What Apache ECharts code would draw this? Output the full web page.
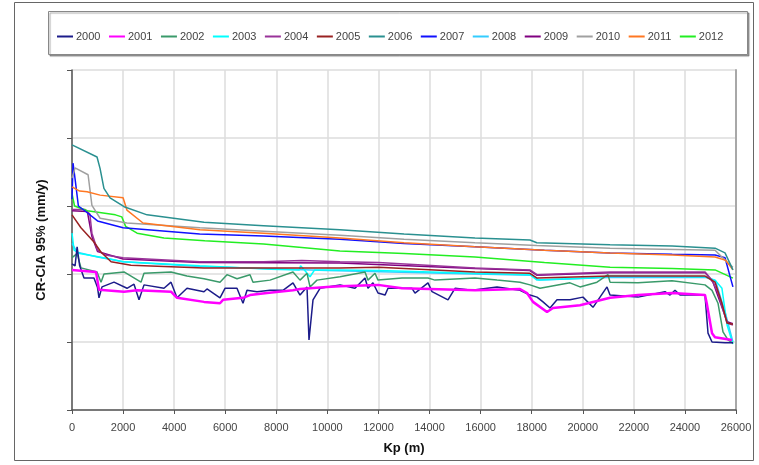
<!DOCTYPE html>
<html><head><meta charset="utf-8">
<script src="https://cdn.jsdelivr.net/npm/echarts@6/dist/echarts.min.js"></script>
<style>html,body{margin:0;padding:0;background:#fff}#c{width:759px;height:465px}</style>
</head><body><div id="c"></div>
<script>
var years = ['2000','2001','2002','2003','2004','2005','2006','2007','2008','2009','2010','2011','2012'];
var colors = ['#1c1c8a','#ff00ff','#3a9a6a','#00ffff','#993399','#992222','#2a9090','#1010ff','#33ccff','#800080','#a0a0a0','#ff7722','#22ee22'];
var xTicks = [0,2000,4000,6000,8000,10000,12000,14000,16000,18000,20000,22000,24000,26000];

var s2000 = [[0,2.15],[120,2.12],[200,2.40],[300,2.12],[470,1.94],[860,1.94],[1000,1.80],[1057,1.65],[1175,1.81],[1645,1.88],[2154,1.79],[2428,1.85],[2624,1.62],[2819,1.84],[3602,1.79],[3877,1.88],[4112,1.65],[4503,1.79],[5169,1.74],[5286,1.78],[5795,1.65],[5991,1.79],[6461,1.79],[6696,1.57],[6852,1.76],[7244,1.74],[7753,1.76],[8262,1.76],[8654,1.87],[8928,1.69],[9202,1.81],[9280,1.03],[9437,1.62],[9711,1.79],[10494,1.84],[11081,1.79],[11473,1.94],[11590,1.79],[11786,1.87],[11982,1.72],[12256,1.69],[12374,1.79],[13313,1.79],[13431,1.72],[13940,1.87],[14097,1.74],[14723,1.62],[14997,1.79],[15663,1.76],[16642,1.81],[17542,1.76],[17934,1.69],[18208,1.66],[18443,1.59],[18717,1.50],[18991,1.62],[19500,1.62],[20009,1.66],[20401,1.51],[20675,1.66],[20949,1.81],[21067,1.69],[22163,1.66],[23220,1.74],[23416,1.69],[23612,1.76],[23808,1.69],[24786,1.69],[24904,1.13],[25061,1.00],[25570,0.99],[25883,0.99]];
var s2001 = [[0,2.06],[940,2.03],[1057,1.77],[2036,1.74],[2545,1.76],[3877,1.74],[4112,1.65],[5169,1.59],[5795,1.57],[5913,1.62],[6696,1.65],[6970,1.69],[7636,1.72],[8654,1.76],[8928,1.78],[9985,1.81],[10494,1.82],[11982,1.84],[12922,1.79],[15780,1.76],[17542,1.78],[17816,1.72],[18051,1.59],[18600,1.44],[18835,1.50],[19892,1.54],[21067,1.65],[22163,1.69],[23494,1.72],[24786,1.69],[24865,1.55],[25061,1.13],[25178,1.07],[25844,1.03]];
var s2002 = [[0,2.24],[200,2.30],[352,2.09],[979,2.03],[1136,1.88],[1253,2.00],[2036,2.03],[2702,1.88],[2819,2.01],[3877,2.03],[4500,1.97],[5169,1.93],[5795,1.88],[6069,1.99],[6461,1.93],[6970,1.99],[7087,1.88],[7753,1.91],[8654,2.03],[8928,1.91],[9202,2.01],[9320,1.81],[9593,1.91],[10494,1.96],[11473,2.03],[11590,1.91],[11865,2.01],[11982,1.91],[12922,1.94],[13940,1.94],[14214,1.91],[15780,1.94],[16642,1.91],[17542,1.88],[17934,1.84],[18326,1.79],[19500,1.87],[19892,1.81],[20557,1.88],[20988,1.99],[21067,1.88],[22163,1.87],[23494,1.90],[24786,1.84],[25061,1.76],[25295,1.57],[25491,1.15],[25687,1.03],[25883,0.98]];
var s2003 = [[0,2.60],[80,2.35],[300,2.30],[800,2.27],[1500,2.22],[2000,2.18],[5000,2.12],[7800,2.07],[8900,2.06],[8950,2.12],[9100,2.06],[9320,1.96],[9500,2.06],[10490,2.06],[12000,2.05],[15780,2.01],[17930,1.99],[18210,1.91],[20300,1.94],[21070,1.97],[24790,1.96],[25180,1.91],[25450,1.79],[25650,1.25],[25880,0.97]];
var s2004 = [[0,2.95],[500,2.95],[700,2.88],[780,2.60],[1000,2.35],[1300,2.28],[2000,2.24],[5000,2.18],[7500,2.18],[9000,2.20],[10490,2.18],[12000,2.17],[15780,2.09],[17930,2.06],[18210,1.99],[21070,2.03],[24790,2.03],[25060,1.91],[25300,1.72],[25650,1.28],[25880,1.25]];
var s2005 = [[0,2.87],[350,2.68],[860,2.47],[1140,2.32],[1530,2.18],[2310,2.13],[5170,2.09],[7500,2.09],[10490,2.09],[12000,2.10],[15780,2.03],[17930,2.01],[18210,1.94],[21070,1.97],[24790,1.97],[25180,1.88],[25450,1.57],[25650,1.28],[25880,1.26]];
var s2006 = [[0,3.90],[980,3.72],[1100,3.55],[1250,3.26],[1490,3.12],[2040,2.99],[2940,2.87],[5170,2.76],[7500,2.71],[10490,2.65],[13000,2.59],[15780,2.53],[17930,2.50],[18200,2.46],[21070,2.43],[23500,2.41],[25180,2.38],[25570,2.31],[25880,2.06]];
var s2007 = [[0,3.10],[40,3.63],[120,3.40],[250,3.00],[500,2.93],[1000,2.78],[2000,2.68],[5000,2.59],[7500,2.56],[10490,2.51],[13000,2.45],[15780,2.40],[18500,2.35],[21070,2.31],[23500,2.29],[25180,2.28],[25570,2.24],[25880,1.81]];
var s2008 = [[0,2.45],[200,2.32],[1000,2.25],[2000,2.18],[5000,2.11],[10000,2.05],[15780,2.00],[18000,1.98],[18300,1.91],[21000,1.95],[24800,1.95],[25200,1.90],[25600,1.40],[25880,1.00]];
var s2009 = [[0,2.93],[600,2.92],[780,2.55],[1000,2.33],[2000,2.22],[5000,2.17],[10490,2.16],[15780,2.08],[17930,2.05],[18210,1.98],[21070,2.02],[24790,2.02],[25100,1.88],[25650,1.30],[25880,1.27]];
var s2010 = [[0,3.41],[120,3.56],[630,3.46],[780,3.01],[1100,2.82],[2150,2.75],[5010,2.68],[7500,2.63],[10490,2.57],[13000,2.51],[15780,2.46],[18200,2.42],[21070,2.38],[25180,2.35],[25690,2.16],[25880,2.10]];
var s2011 = [[0,3.28],[300,3.22],[590,3.21],[1100,3.16],[2000,3.12],[2150,2.94],[2780,2.75],[5010,2.65],[7500,2.60],[10490,2.53],[13000,2.46],[15780,2.40],[18500,2.35],[21070,2.31],[23500,2.28],[25180,2.25],[25600,2.20],[25880,2.06]];
var s2012 = [[0,3.18],[100,3.00],[600,2.93],[1700,2.87],[1950,2.84],[2100,2.70],[2550,2.60],[3600,2.53],[5200,2.49],[7500,2.44],[9320,2.38],[10490,2.34],[13000,2.30],[15780,2.25],[18500,2.17],[21070,2.10],[23500,2.08],[25180,2.06],[25880,1.94]];

var allData = [s2000,s2001,s2002,s2003,s2004,s2005,s2006,s2007,s2008,s2009,s2010,s2011,s2012];
var drawOrder = [8,9,3,2,0,1,4,5,12,7,10,11,6];

var series = drawOrder.map(function(i){
  return {name: years[i], type:'line', data: allData[i], showSymbol:false, symbol:'none',
    lineStyle:{color: colors[i], width: i===1 ? 2.5 : 1.5}, itemStyle:{color: colors[i]},
    z: 2 + drawOrder.indexOf(i) * 0.01};
});

var chart = echarts.init(document.getElementById('c'), null, {renderer:'canvas'});
chart.setOption({
  animation:false,
  backgroundColor:'#fff',
  textStyle:{fontFamily:'Liberation Sans, Arial, sans-serif'},
  graphic:[
    {type:'rect', shape:{x:14.5,y:2.5,width:739,height:458}, style:{fill:null, stroke:'#666', lineWidth:1}, silent:true, z:-10},
    {type:'rect', shape:{x:48.5,y:11.5,width:699,height:43}, style:{fill:'#fff', stroke:'#888', lineWidth:1, shadowColor:'rgba(0,0,0,0.35)', shadowOffsetX:1.5, shadowOffsetY:1.5, shadowBlur:1}, silent:true, z:-5}
  ],
  legend:{
    data: years, left:52, top:26, orient:'horizontal', icon:'rect', itemWidth:16, itemHeight:2, itemGap:8.5,
    textStyle:{color:'#444', fontSize:11, fontFamily:'Liberation Sans, Arial, sans-serif', padding:[0,0,0,-2]},
    selectedMode:false
  },
  grid:{left:72, right:23, top:70, bottom:55, containLabel:false},
  xAxis:{
    type:'value', min:0, max:26000, interval:2000,
    axisLine:{show:true, onZero:false, lineStyle:{color:'#555', width:1.5}},
    axisTick:{show:true, length:4, lineStyle:{color:'#555'}},
    axisLabel:{color:'#444', fontSize:11, margin:12, formatter:function(v){return xTicks.indexOf(v)>=0 ? String(v) : '';}},
    splitLine:{show:true, lineStyle:{color:'#dcdcdc', width:1.5}},
    name:'Kp (m)', nameLocation:'middle', nameGap:32,
    nameTextStyle:{fontSize:13, fontWeight:'bold', color:'#111'}
  },
  yAxis:[{
    type:'value', min:0, max:5, interval:1,
    axisLine:{show:true, lineStyle:{color:'#555', width:1.5}},
    axisTick:{show:true, length:5, lineStyle:{color:'#555'}},
    axisLabel:{show:false},
    splitLine:{show:true, lineStyle:{color:'#dcdcdc', width:1.5}},
    name:'CR-CIA 95% (mm/y)', nameLocation:'middle', nameGap:24,
    nameTextStyle:{fontSize:13, fontWeight:'bold', color:'#111'}
  },{
    type:'value', min:0, max:5, interval:1, position:'right',
    axisLine:{show:true, lineStyle:{color:'#a8a8a8', width:2}},
    axisTick:{show:false}, axisLabel:{show:false}, splitLine:{show:false}
  }],
  series: series
});
</script></body></html>
